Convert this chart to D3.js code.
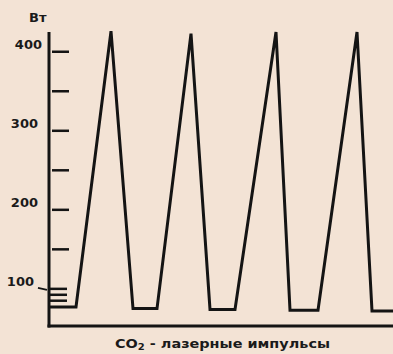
<!DOCTYPE html>
<html lang="ru">
<head>
<meta charset="UTF-8">
<script src="https://d3js.org/d3.v7.min.js"></script>
<style>
  body { margin: 0; background: #f3e3d5; }
  svg { display: block; }
  text { font-family: "DejaVu Sans", "Liberation Sans", Arial, sans-serif; font-weight: bold; fill: #1a1a1a; }
</style>
</head>
<body>
<div id="chart"></div>
<script>
// pulse vertices: time (arb. units) and power, W
const pulseTime  = [0, 27, 62, 84, 108, 142, 161, 186, 227, 241, 269, 308, 323, 344];
const pulsePower = [77, 77, 426, 75, 75, 423, 74, 74, 425, 73, 73, 425, 72, 72];

const majorTicks = [400, 350, 300, 250, 200, 150];
const minorTicks = [100, 92.5, 85];
const tickLabels = [400, 300, 200, 100];

const width = 393, height = 354;
const svg = d3.select("#chart").append("svg")
    .attr("width", width)
    .attr("height", height);

const x = d3.scaleLinear().domain([0, 344]).range([49, 393]);
const y = d3.scaleLinear().domain([53, 425]).range([326, 32]);

const ink = "#141414";

// axes
svg.append("line")
    .attr("x1", x(0)).attr("x2", x(0))
    .attr("y1", y(425)).attr("y2", y(53) + 1.5)
    .attr("stroke", ink).attr("stroke-width", 3);
svg.append("line")
    .attr("x1", x(0) - 1.5).attr("x2", width)
    .attr("y1", y(53)).attr("y2", y(53))
    .attr("stroke", ink).attr("stroke-width", 3);

// ticks
svg.selectAll(".major").data(majorTicks).enter().append("line")
    .attr("x1", x(0) + 3).attr("x2", x(0) + 20)
    .attr("y1", d => y(d)).attr("y2", d => y(d))
    .attr("stroke", ink).attr("stroke-width", 2.5);
svg.selectAll(".minor").data(minorTicks).enter().append("line")
    .attr("x1", x(0)).attr("x2", x(0) + 18)
    .attr("y1", d => y(d)).attr("y2", d => y(d))
    .attr("stroke", ink).attr("stroke-width", 2.5);

// leader from "100" to its tick
svg.append("line")
    .attr("x1", x(0) - 11).attr("x2", x(0) - 2)
    .attr("y1", y(100) - 1).attr("y2", y(100) + 1)
    .attr("stroke", ink).attr("stroke-width", 2);

svg.selectAll(".lab").data(tickLabels).enter().append("text")
    .attr("x", d => d === 400 ? 42 : (d === 100 ? 34 : 38))
    .attr("y", d => y(d) - 3)
    .attr("text-anchor", "end")
    .attr("font-size", 13)
    .text(d => d);

svg.append("text")
    .attr("x", 29).attr("y", 22)
    .attr("font-size", 13)
    .text("Вт");

// pulses
const pts = pulseTime.map((t, i) => [t, pulsePower[i]]);
svg.append("path")
    .datum(pts)
    .attr("d", d3.line().x(d => x(d[0])).y(d => y(d[1])))
    .attr("fill", "none")
    .attr("stroke", ink)
    .attr("stroke-width", 3)
    .attr("stroke-linejoin", "miter")
    .attr("stroke-miterlimit", 6);

// x label
const xl = svg.append("text")
    .attr("x", 115).attr("y", 348)
    .attr("font-size", 13)
    .attr("textLength", 215)
    .attr("lengthAdjust", "spacingAndGlyphs");
xl.append("tspan").text("CO");
xl.append("tspan").attr("font-size", 9).attr("dy", 2).text("2");
xl.append("tspan").attr("dy", -2).text(" - лазерные импульсы");
</script>
</body>
</html>
